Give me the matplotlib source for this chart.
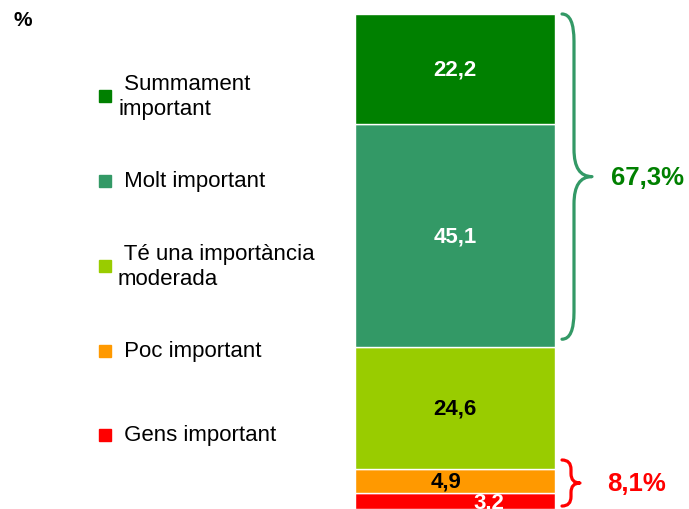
import matplotlib.pyplot as plt
from matplotlib.path import Path
import matplotlib.patches as patches

plt.rcParams['font.family'] = ['Liberation Sans', 'DejaVu Sans']

# dades (de baix a dalt)
categories = ['Gens important', 'Poc important', 'Té una importància\nmoderada',
              'Molt important', 'Summament\nimportant']
values = [3.2, 4.9, 24.6, 45.1, 22.2]
colors = ['#FF0000', '#FF9900', '#99CC00', '#339966', '#008000']
label_colors = ['white', 'black', 'black', 'white', 'white']
value_labels = ['3,2', '4,9', '24,6', '45,1', '22,2']
groups = ['67,3%', '8,1%']
group_sums = [67.3, 8.1]
group_colors = ['#008000', '#FF0000']
brace_colors = ['#339966', '#FF0000']

W, H = 689, 510
px = 4.95  # pixels per punt percentual

fig = plt.figure(figsize=(W / 100, H / 100), dpi=100)
ax = fig.add_axes([0, 0, 1, 1])
ax.set_xlim(0, W)
ax.set_ylim(0, H / px)
ax.axis('off')

# barra apilada
bottom = 0
for v, c, lab, lc in zip(values, colors, value_labels, label_colors):
    ax.bar(455, v, width=200, bottom=bottom, color=c, edgecolor='white', linewidth=1)
    xt, yt = 455, bottom + v / 2
    if lab == '4,9':
        xt = 446
    if lab == '3,2':
        xt, yt = 489, bottom + v / 2 - 0.2
    ax.text(xt, yt, lab, color=lc, fontsize=16, fontweight='bold', ha='center', va='center')
    bottom += v
total = bottom


def brace(x0, xm, tip, top, bot, r, color):
    mid = (top + bot) / 2
    verts = [(x0, top), (xm, top), (xm, top - r),
             (xm, mid + r), (xm, mid), (tip, mid),
             (xm, mid), (xm, mid - r),
             (xm, bot + r), (xm, bot), (x0, bot)]
    codes = [Path.MOVETO, Path.CURVE3, Path.CURVE3,
             Path.LINETO, Path.CURVE3, Path.CURVE3,
             Path.CURVE3, Path.CURVE3,
             Path.LINETO, Path.CURVE3, Path.CURVE3]
    ax.add_patch(patches.PathPatch(Path(verts, codes), fill=False, edgecolor=color,
                                   lw=2.3, capstyle='round', joinstyle='round'))
    return mid


# claus
m1 = brace(562, 574, 592, total, total - group_sums[0] + 1.6, 5.5, brace_colors[0])
ax.text(611, m1, groups[0], color=group_colors[0], fontsize=18.5, fontweight='bold',
        ha='left', va='center')
m2 = brace(562, 571, 580, group_sums[1] + 1.8, 0.6, 1.9, brace_colors[1])
ax.text(607, m2, groups[1], color=group_colors[1], fontsize=18.5, fontweight='bold',
        ha='left', va='center')

# llegenda
leg_y = [436, 352, 267, 182, 97]
for cat, c, y in zip(categories, colors, leg_y):
    fig.patches.append(patches.Rectangle((99 / W, 1 - (y + 6) / H), 12 / W, 12 / H,
                                         transform=fig.transFigure, color=c))
    txt = cat.split('\n')
    txt[0] = ' ' + txt[0]
    fig.text(118 / W, 1 - y / H, '\n'.join(txt), fontsize=16, ha='left', va='center',
             linespacing=1.25)

fig.text(14 / W, 1 - 20 / H, '%', fontsize=15, fontweight='bold', ha='left', va='center')

fig.savefig('out.png', dpi=100)
